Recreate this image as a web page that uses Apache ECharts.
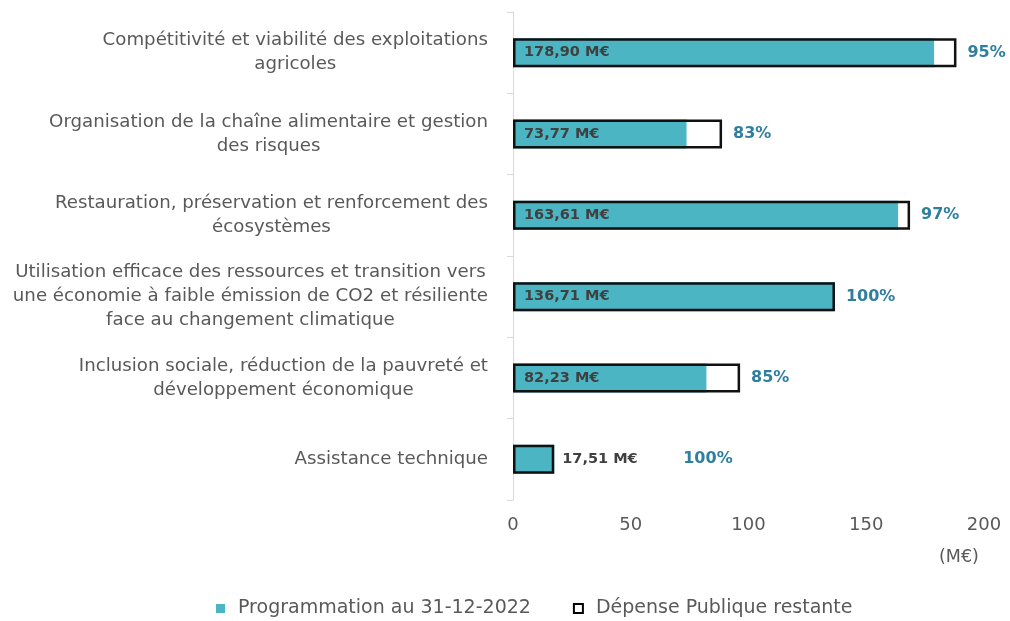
<!DOCTYPE html>
<html>
<head>
<meta charset="utf-8">
<script src="https://cdn.jsdelivr.net/npm/echarts@6/dist/echarts.min.js"></script>
<style>html,body{margin:0;padding:0;background:#fff}#c{width:1010px;height:621px}</style>
</head>
<body>
<div id="c"></div>
<script>
const categories = [
  "Compétitivité et viabilité des exploitations\nagricoles",
  "Organisation de la chaîne alimentaire et gestion\ndes risques",
  "Restauration, préservation et renforcement des\nécosystèmes",
  "Utilisation efficace des ressources et transition vers\nune économie à faible émission de CO2 et résiliente\nface au changement climatique",
  "Inclusion sociale, réduction de la pauvreté et\ndéveloppement économique",
  "Assistance technique"
];
const programmation = [178.90, 73.77, 163.61, 136.71, 82.23, 17.51];
const restante = [9.4, 15.0, 5.0, 0, 14.2, 0];
const pourcentages = [95, 83, 97, 100, 85, 100];
const xTicks = [0, 50, 100, 150, 200];

const FONT = 'DejaVu Sans';
const TEAL = '#4bb5c4';
const PCT = '#2f7f9e';
const GRAY = '#595959';
const totals = programmation.map((v, i) => v + restante[i]);
const fmt = v => v.toFixed(2).replace('.', ',') + ' M€';

const chart = echarts.init(document.getElementById('c'));
chart.setOption({
  animation: false,
  grid: { left: 513, right: 26, top: 12, bottom: 121, containLabel: false },
  xAxis: {
    type: 'value', min: xTicks[0], max: xTicks[xTicks.length - 1], interval: 50,
    axisLine: { show: false }, axisTick: { show: false }, splitLine: { show: false },
    axisLabel: { color: GRAY, fontFamily: FONT, fontSize: 18, margin: 16 }
  },
  yAxis: {
    type: 'category', data: categories, inverse: true,
    axisLine: { show: true, lineStyle: { color: '#d9d9d9', width: 1 } },
    axisTick: { show: true, length: 6, lineStyle: { color: '#d9d9d9' } },
    axisLabel: {
      color: GRAY, fontFamily: FONT, fontSize: 18.2, lineHeight: 24, margin: 25, align: 'right',
      formatter: v => v.split('\n').map(l => '{c|' + l + '}').join('\n'),
      rich: { c: { align: 'center', color: GRAY, fontFamily: FONT, fontSize: 18.2, lineHeight: 24 } }
    }
  },
  legend: {
    left: 211, bottom: -2, itemWidth: 9, itemHeight: 9, itemGap: 42,
    textStyle: { color: GRAY, fontFamily: FONT, fontSize: 19, padding: [0, 0, 0, 8] },
    data: [
      { name: 'Programmation au 31-12-2022', icon: 'rect', itemStyle: { color: TEAL } },
      { name: 'Dépense Publique restante', icon: 'rect', itemStyle: { color: '#fff', borderColor: '#000', borderWidth: 2 } }
    ]
  },
  graphic: [{
    type: 'text', left: 939, top: 548,
    style: { text: '(M€)', fill: GRAY, font: '17.5px ' + FONT }
  }],
  series: [
    {
      name: 'Programmation au 31-12-2022', type: 'bar', stack: 'a', barWidth: 29, barGap: '-100%',
      itemStyle: { color: TEAL },
      data: programmation.map(v => ({
        value: v,
        label: v < 30 ? { position: 'right', distance: 8 } : {}
      })),
      label: {
        show: true, position: 'insideLeft', distance: 11, formatter: p => fmt(p.value),
        color: '#404040', fontFamily: FONT, fontSize: 14.5, fontWeight: 'bold'
      }
    },
    {
      name: 'Dépense Publique restante', type: 'bar', stack: 'a', barWidth: 29, barGap: '-100%',
      itemStyle: { color: '#fff' },
      data: restante
    },
    {
      name: 'outline', type: 'bar', barWidth: 29, barGap: '-100%', z: 3,
      itemStyle: { color: 'rgba(0,0,0,0)', borderColor: '#111', borderWidth: 2.5 },
      data: totals.map((v, i) => ({
        value: v,
        label: programmation[i] < 30 ? { offset: [118, 0] } : {}
      })),
      label: {
        show: true, position: 'right', distance: 11,
        formatter: p => pourcentages[p.dataIndex] + '%',
        color: PCT, fontFamily: FONT, fontSize: 16, fontWeight: 'bold'
      },
      silent: true
    }
  ]
});
</script>
</body>
</html>
